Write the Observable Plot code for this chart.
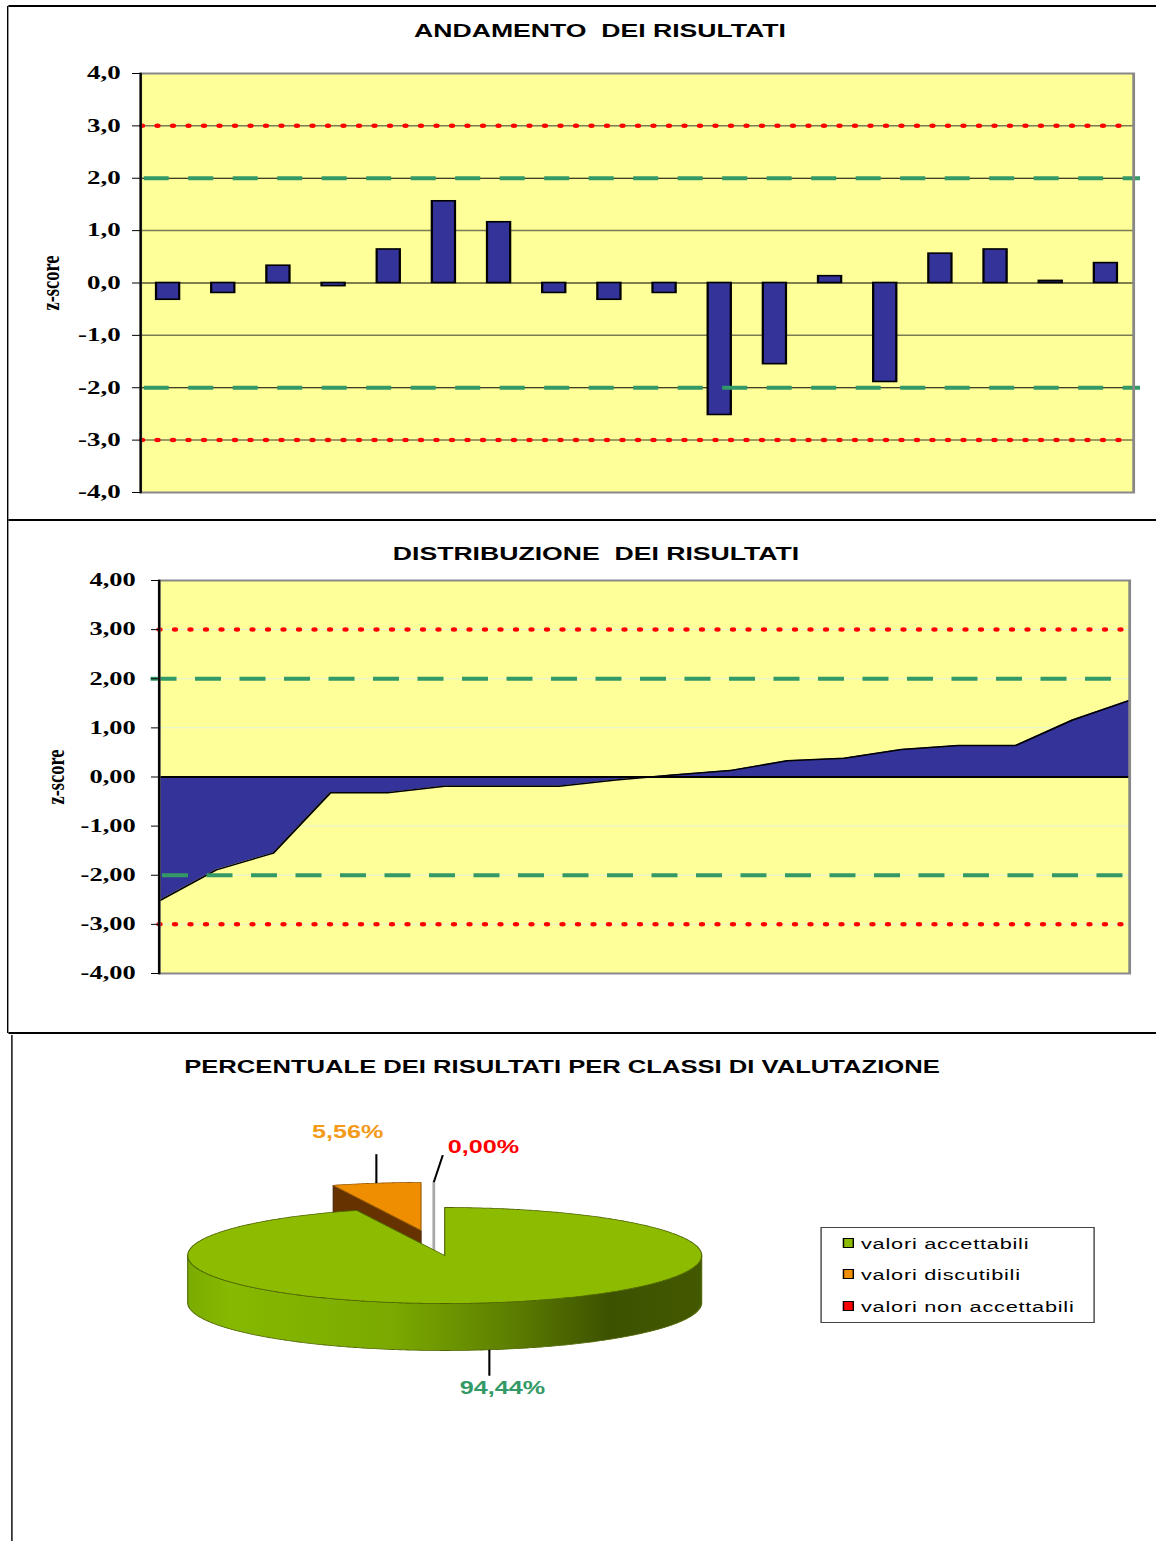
<!DOCTYPE html>
<html><head><meta charset="utf-8">
<script src="https://cdn.jsdelivr.net/npm/d3@7"></script>
<script src="https://cdn.jsdelivr.net/npm/@observablehq/plot@0.6"></script>
<style>
html,body{margin:0;padding:0;background:#fff;}
#page{position:relative;height:1541px;transform-origin:0 0;}
.abs{position:absolute;}
.title{position:absolute;font-family:"Liberation Sans",Arial,sans-serif;font-weight:bold;font-size:19px;white-space:pre;line-height:1;transform:translateX(-50%);color:#000;}
.leg{position:absolute;font-family:"Liberation Sans",Arial,sans-serif;font-size:15.5px;line-height:16px;white-space:pre;color:#000;letter-spacing:0.55px;}
svg{display:block;}
</style></head><body><div id="page"></div>
<script>
// ---------- data ----------
const roundIds = ["1","2","3","4","5","6","7","8","9","10","11","12","13","14","15","16","17","18"];
const zScores = [-0.32,-0.19,0.33,-0.06,0.64,1.56,1.16,-0.19,-0.32,-0.19,-2.52,-1.55,0.13,-1.89,0.56,0.64,0.04,0.38];
const yTicks = [-4,-3,-2,-1,0,1,2,3,4];
const warnLimits = [-2, 2];
const actionLimits = [-3, 3];
const minorGrid = [-3, -1, 1, 3];
const classNames = ["valori accettabili", "valori discutibili", "valori non accettabili"];
const classShares = [94.44, 5.56, 0.00];
const titleTexts = ["ANDAMENTO  DEI RISULTATI", "DISTRIBUZIONE  DEI RISULTATI", "PERCENTUALE DEI RISULTATI PER CLASSI DI VALUTAZIONE"];
const axisLabel = "z-score";

// ---------- styles ----------
const S = 1.4;                 // horizontal stretch of the original picture
const X = v => v / S;
const BLUE = "#333399", YELLOW = "#FFFF99", SEA = "#339966", RED = "#FF0000";
const pieTop = ["#8CBB00", "#EE8E00", "#FF0000"];
const pieSide = ["url(#rimGrad)", "#663300", "#CC0000"];
const pieEdge = ["#4f6600", "#9a5a00", "#a8a8a8"];
const swatch = ["#8CBB00", "#EE8E00", "#FF0000"];
const labelColor = ["#339966", "#F39A1A", "#FF0000"];
const explode = [0, 0.53, 0.53];
const explodeTwist = [0, 0, -0.08];
const leaderPx = [[0, 26], [0, -29], [9, -27]];
const labelPx = [[13, 12, "middle"], [7, -22, "end"], [5, -8, "start"]];
const RX = 257, RY = 48, DEPTH = 47 / 48;
const serif = "Liberation Serif, Times New Roman, serif";
const sans = "Liberation Sans, Arial, sans-serif";

const page = document.getElementById("page");
page.style.width = X(1156) + "px";
page.style.transform = `scaleX(${S})`;

function div(cls, css, text) {
  const d = document.createElement("div");
  if (cls) d.className = cls;
  Object.assign(d.style, css);
  if (text != null) d.textContent = text;
  page.appendChild(d);
  return d;
}
function hline(x1, x2, y, th) { div("abs", {left: X(x1)+"px", top: (y - th/2)+"px", width: X(x2-x1)+"px", height: th+"px", background: "#000"}); }
function vline(x, y1, y2, th) { div("abs", {left: X(x - th/2)+"px", top: y1+"px", width: X(th)+"px", height: (y2-y1)+"px", background: "#000"}); }

// panel borders
hline(8, 1156, 6, 1.5);
vline(8, 6, 1033, 1.5);
hline(8, 1156, 520, 2);
hline(8, 1156, 1033, 2);
vline(12, 1035, 1541, 1.5);

// titles
[[600, 21, 19], [596, 543.5, 19], [562, 1057.5, 18.3]].forEach(([cx, top, fs], i) => {
  div("title", {left: X(cx)+"px", top: top+"px", fontSize: fs+"px"}, titleTexts[i]);
});

function place(svg, top) {
  const holder = div("abs", {left: "0px", top: top+"px"});
  holder.appendChild(svg);
}
function widenTicks(svg, k) {
  d3.select(svg).selectAll("g[aria-label='y-axis tick label'] text").each(function() {
    const t = this.getAttribute("transform");
    if (t && t.includes("translate")) this.setAttribute("transform", t + ` scale(${k},1)`);
  });
}
const fmt1 = d => d.toFixed(1).replace(".", ",");
const fmt2 = d => d.toFixed(2).replace(".", ",");
const baseStyle = {background: "transparent", overflow: "visible", maxWidth: "none"};

// ---------- chart 1: bars ----------
const barData = roundIds.map((id, i) => ({id, z: zScores[i]}));
const chart1 = Plot.plot({
  width: X(1156), height: 460,
  marginLeft: X(140), marginRight: X(23), marginTop: 23, marginBottom: 18,
  style: baseStyle,
  x: {type: "band", domain: roundIds, paddingInner: 0.58, paddingOuter: 0.29, round: false, axis: null},
  y: {domain: [-4, 4], axis: null},
  marks: [
    Plot.frame({fill: YELLOW, stroke: null}),
    Plot.ruleY(minorGrid, {stroke: "#7a7a55", strokeWidth: 1.5}),
    Plot.ruleY([...warnLimits, 0], {stroke: "#000", strokeWidth: 1}),
    Plot.barY(barData, {x: "id", y: "z", fill: BLUE, stroke: "#000", strokeWidth: 1.6}),
    Plot.ruleY(actionLimits, {stroke: RED, strokeWidth: 4.5, strokeLinecap: "round", strokeDasharray: `0 ${X(15.5)}`, strokeDashoffset: -X(2)}),
    Plot.ruleY(warnLimits, {stroke: SEA, strokeWidth: 4, strokeDasharray: `${X(25)} ${X(19.5)}`, strokeDashoffset: -X(3.7), insetRight: -X(7)}),
    Plot.frame({stroke: "#888", strokeWidth: 2}),
    Plot.frame({anchor: "left", stroke: "#000", strokeWidth: 1.6}),
    Plot.axisY({ticks: yTicks, tickFormat: fmt1, tickSize: X(8), tickPadding: X(12), fontSize: 18, fontFamily: serif, fontWeight: "bold", stroke: "#000", fill: "#000", label: null}),
    Plot.text([axisLabel], {frameAnchor: "left", dx: -X(90), rotate: -90, textAnchor: "middle", lineAnchor: "middle", text: d => d, fontSize: 18.5, fontFamily: serif, fontWeight: "bold", fill: "#000"})
  ]
});
widenTicks(chart1, 1.07);
place(chart1, 50);

// ---------- chart 2: sorted distribution ----------
const sortedScores = d3.sort(zScores);
const chart2 = Plot.plot({
  width: X(1156), height: 440,
  marginLeft: X(158.5), marginRight: X(27), marginTop: 20, marginBottom: 27,
  style: baseStyle,
  x: {domain: [0, sortedScores.length - 1], axis: null},
  y: {domain: [-4, 4], axis: null},
  marks: [
    Plot.frame({fill: YELLOW, stroke: null}),
    Plot.ruleY([-3, -2, -1, 1, 2, 3], {stroke: "#e2f3da", strokeWidth: 1}),
    Plot.areaY(sortedScores, {x: (d, i) => i, y: d => d, fill: BLUE}),
    Plot.lineY(sortedScores, {x: (d, i) => i, y: d => d, stroke: "#000", strokeWidth: 1.5}),
    Plot.ruleY([0], {stroke: "#000", strokeWidth: 2}),
    Plot.ruleY([actionLimits[1]], {stroke: RED, strokeWidth: 4.5, strokeLinecap: "round", strokeDasharray: `0 ${X(15.5)}`, strokeDashoffset: -X(1)}),
    Plot.ruleY([actionLimits[0]], {stroke: RED, strokeWidth: 4.5, strokeLinecap: "round", strokeDasharray: `0 ${X(15.5)}`, strokeDashoffset: -X(1), insetRight: -X(6)}),
    Plot.ruleY([warnLimits[1]], {stroke: SEA, strokeWidth: 4, strokeDasharray: `${X(26)} ${X(18.5)}`, insetLeft: -X(8)}),
    Plot.ruleY([warnLimits[0]], {stroke: SEA, strokeWidth: 4, strokeDasharray: `${X(26)} ${X(18.5)}`, strokeDashoffset: -X(3.5)}),
    Plot.frame({stroke: "#888", strokeWidth: 2}),
    Plot.frame({anchor: "left", stroke: "#000", strokeWidth: 1.6}),
    Plot.axisY({ticks: yTicks, tickFormat: fmt2, tickSize: X(7.5), tickPadding: X(16), fontSize: 18, fontFamily: serif, fontWeight: "bold", stroke: "#000", fill: "#000", label: null}),
    Plot.text([axisLabel], {frameAnchor: "left", dx: -X(103.5), rotate: -90, textAnchor: "middle", lineAnchor: "middle", text: d => d, fontSize: 18.5, fontFamily: serif, fontWeight: "bold", fill: "#000"})
  ]
});
widenTicks(chart2, 1.05);
place(chart2, 560);

// ---------- chart 3: 3D pie ----------
const total = d3.sum(classShares);
let acc = 0;
const slices = classShares.map((v, i) => {
  const a0 = acc / total * 2 * Math.PI; acc += v;
  const a1 = acc / total * 2 * Math.PI;
  const am = (a0 + a1) / 2;
  const ea = am + explodeTwist[i];
  return {i, v, a0, a1, am, ox: explode[i] * Math.sin(ea), oy: explode[i] * Math.cos(ea)};
});
const P = (s, a, z = 0) => ({x: s.ox + Math.sin(a), y: s.oy + Math.cos(a) - z});
const C = (s, z = 0) => ({x: s.ox, y: s.oy - z});
function arc(s, b0, b1, z) {
  const n = Math.max(2, Math.ceil(Math.abs(b1 - b0) / 0.01));
  return d3.range(n + 1).map(k => P(s, b0 + (b1 - b0) * k / n, z));
}
const pieMarks = [];
const poly = (pts, fill, stroke, sw) => Plot.line(pts, {x: "x", y: "y", curve: "linear-closed", fill, stroke, strokeWidth: sw});
d3.sort(slices, s => -Math.cos(s.am)).forEach(s => {
  if (s.v === 0) {
    pieMarks.push(poly([C(s), P(s, s.a0), P(s, s.a0, DEPTH), C(s, DEPTH)], "#fff", pieEdge[s.i], 2));
    return;
  }
  if (Math.sin(s.a0) < -1e-9) pieMarks.push(poly([C(s), P(s, s.a0), P(s, s.a0, DEPTH), C(s, DEPTH)], pieSide[s.i], "#3a1a00", 0.6));
  if (Math.sin(s.a1) > 1e-9) pieMarks.push(poly([C(s), P(s, s.a1), P(s, s.a1, DEPTH), C(s, DEPTH)], pieSide[s.i], "#3a1a00", 0.6));
  const lo = Math.max(s.a0, Math.PI / 2), hi = Math.min(s.a1, 3 * Math.PI / 2);
  if (lo < hi) pieMarks.push(poly([...arc(s, lo, hi, 0), ...arc(s, hi, lo, DEPTH)], pieSide[s.i], pieEdge[s.i], 0.8));
  pieMarks.push(poly([C(s), ...arc(s, s.a0, s.a1, 0)], pieTop[s.i], pieEdge[s.i], 0.8));
});
slices.forEach(s => {
  const a = Math.cos(s.am) < 0 ? P(s, s.am, DEPTH) : P(s, s.am, 0);
  const e = {x: a.x + leaderPx[s.i][0] / RX, y: a.y - leaderPx[s.i][1] / RY};
  pieMarks.push(Plot.link([{a, e}], {x1: d => d.a.x, y1: d => d.a.y, x2: d => d.e.x, y2: d => d.e.y, stroke: "#000", strokeWidth: 1.5}));
  pieMarks.push(Plot.text([s], {x: () => e.x, y: () => e.y, text: d => fmt2(d.v) + "%", dx: X(labelPx[s.i][0]), dy: labelPx[s.i][1], textAnchor: labelPx[s.i][2], lineAnchor: "middle", fill: labelColor[s.i], fontSize: 18, fontWeight: "bold", fontFamily: sans}));
});
const chart3 = Plot.plot({
  width: X(1156), height: 330,
  marginLeft: X(187), marginRight: X(1156 - 701), marginTop: 21, marginBottom: 21,
  style: baseStyle,
  x: {domain: [-1, 1], axis: null},
  y: {domain: [-3, 3], axis: null},
  marks: pieMarks
});
const defs = d3.select(chart3).insert("defs", ":first-child");
const grad = defs.append("linearGradient").attr("id", "rimGrad").attr("x1", 0).attr("x2", 1).attr("y1", 0).attr("y2", 0);
[[0, "#7aab00"], [0.08, "#86b900"], [0.4, "#7ba900"], [0.62, "#5e8000"], [0.82, "#3d5200"], [1, "#435900"]].forEach(([o, c]) => grad.append("stop").attr("offset", o).attr("stop-color", c));
place(chart3, 1090);

// legend
div("abs", {left: X(820)+"px", top: "1227px", width: X(275)+"px", height: "96px", border: "1px solid #444", boxSizing: "border-box"});
[1243, 1274, 1306].forEach((cy, i) => {
  div("abs", {left: X(843)+"px", top: (cy - 5)+"px", width: X(11)+"px", height: "10px", background: swatch[i], border: "1.5px solid #000", boxSizing: "border-box"});
  div("leg", {left: X(861)+"px", top: (cy - 7)+"px"}, classNames[i]);
});
</script></body></html>
